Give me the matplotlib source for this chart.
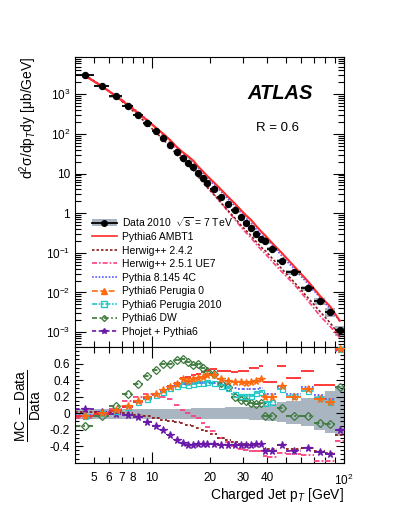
import numpy as np
import matplotlib
matplotlib.use('Agg')
import matplotlib.pyplot as plt
from matplotlib.ticker import FixedLocator, FuncFormatter, MultipleLocator, LogLocator, NullFormatter
from matplotlib.lines import Line2D
from matplotlib.patches import Patch

plt.rcParams['font.family'] = ['Liberation Sans', 'DejaVu Sans']
plt.rcParams['mathtext.fontset'] = 'custom'
plt.rcParams['mathtext.rm'] = 'Liberation Sans'
plt.rcParams['mathtext.it'] = 'Liberation Sans:italic'
plt.rcParams['mathtext.bf'] = 'Liberation Sans:bold'
plt.rcParams['axes.unicode_minus'] = False

# charged jet pT bins [GeV]
pt_edges = [4, 5, 6, 7, 8, 9, 10, 11, 12, 13, 14, 15, 16, 17, 18, 19, 20,
            22, 24, 26, 28, 30, 32, 34, 36, 38, 40, 45, 50, 60, 70, 80, 90, 100]

# measured cross section [ub/GeV]
data_xs = [3070, 1620, 889, 506, 300, 185, 118, 78.7, 52.5, 34.3, 24.5, 18.8,
           14.4, 10.1, 7.57, 5.66, 3.99, 2.59, 1.70, 1.18, 0.811, 0.579, 0.433,
           0.305, 0.224, 0.197, 0.125, 0.0635, 0.0322, 0.0126, 0.0061, 0.00324,
           0.0011]
data_stat = [0.01] * 26 + [0.015, 0.02, 0.025, 0.04, 0.06, 0.09, 0.25]

# total uncertainty band (relative)
band_up = [0.055, 0.053, 0.052, 0.052, 0.052, 0.052, 0.052, 0.052, 0.053, 0.053,
           0.054, 0.055, 0.056, 0.057, 0.058, 0.060, 0.062, 0.065, 0.068, 0.071,
           0.074, 0.078, 0.082, 0.086, 0.090, 0.095, 0.11, 0.13, 0.15, 0.18,
           0.21, 0.27, 0.33]
band_dn = [-0.072, -0.07, -0.07, -0.07, -0.07, -0.07, -0.07, -0.07, -0.07, -0.07,
           -0.072, -0.072, -0.073, -0.073, -0.074, -0.074, -0.075, -0.075, -0.076,
           -0.076, -0.077, -0.077, -0.078, -0.078, -0.079, -0.08, -0.09, -0.11,
           -0.13, -0.15, -0.20, -0.24, -0.28]

# (MC - Data) / Data
ambt1 = [-0.04, -0.01, 0.03, 0.07, 0.13, 0.18, 0.23, 0.28, 0.33, 0.37, 0.42,
         0.44, 0.46, 0.47, 0.50, 0.52, 0.53, 0.51, 0.51, 0.50, 0.51, 0.51, 0.54,
         0.55, 0.565, 0.38, 0.38, 0.565, 0.42, 0.51, 0.34, 0.34, 0.76]
herwig242 = [0.01, 0.01, 0.01, 0.0, -0.02, -0.04, -0.06, -0.08, -0.10, -0.11,
             -0.12, -0.14, -0.16, -0.18, -0.21, -0.22, -0.25, -0.30, -0.32, -0.35,
             -0.37, -0.37, -0.38, -0.38, -0.37, -0.43, -0.43, -0.38, -0.43, -0.42,
             -0.46, -0.48, -0.27]
herwig251 = [-0.06, 0.0, 0.05, 0.15, 0.20, 0.23, 0.22, 0.20, 0.17, 0.10, 0.04,
             0.0, -0.03, -0.06, -0.12, -0.17, -0.22, -0.30, -0.35, -0.40, -0.43,
             -0.45, -0.46, -0.46, -0.46, -0.52, -0.53, -0.48, -0.50, -0.51, -0.58,
             -0.58, -0.34]
pythia8 = [-0.02, 0.01, 0.04, 0.08, 0.13, 0.18, 0.22, 0.27, 0.30, 0.33, 0.35,
           0.35, 0.36, 0.37, 0.37, 0.37, 0.36, 0.35, 0.34, 0.30, 0.29, 0.29, 0.29,
           0.29, 0.30, 0.23, 0.23, 0.32, 0.23, 0.31, 0.22, 0.17, 0.75]
perugia0 = [-0.04, 0.0, 0.04, 0.09, 0.15, 0.19, 0.23, 0.28, 0.32, 0.35, 0.41,
            0.39, 0.41, 0.43, 0.44, 0.46, 0.46, 0.41, 0.39, 0.38, 0.38, 0.37, 0.38,
            0.39, 0.41, 0.20, 0.20, 0.33, 0.20, 0.29, 0.17, 0.14, 0.77]
perugia2010 = [-0.04, 0.0, 0.02, 0.07, 0.13, 0.17, 0.22, 0.26, 0.30, 0.33, 0.35,
               0.34, 0.35, 0.36, 0.36, 0.38, 0.36, 0.33, 0.30, 0.23, 0.21, 0.21,
               0.21, 0.245, 0.26, 0.12, 0.13, 0.29, 0.21, 0.27, 0.18, 0.13, 0.77]
dw = [-0.16, -0.04, 0.09, 0.23, 0.35, 0.45, 0.525, 0.59, 0.60, 0.64, 0.66, 0.62,
      0.58, 0.59, 0.55, 0.51, 0.47, 0.36, 0.31, 0.20, 0.16, 0.15, 0.125, 0.11,
      0.12, -0.04, -0.04, 0.06, -0.04, -0.03, -0.115, -0.13, 0.32]
phojet = [0.05, 0.01, -0.01, -0.02, -0.05, -0.11, -0.15, -0.21, -0.26, -0.32,
          -0.36, -0.39, -0.38, -0.375, -0.375, -0.375, -0.37, -0.39, -0.38, -0.38,
          -0.38, -0.38, -0.38, -0.375, -0.37, -0.46, -0.46, -0.39, -0.46, -0.42,
          -0.475, -0.49, -0.20]

grey = '#a9b6c1'
# label, values, colour, linestyle, marker, filled, drawn in top panel
models = {
    'Pythia6 AMBT1': (ambt1, '#ff2a2a', '-', None, False, True),
    'Herwig++ 2.4.2': (herwig242, '#8b1c1c', (0, (1.5, 1.2)), None, False, True),
    'Herwig++ 2.5.1 UE7': (herwig251, '#ff3f7f', (0, (3, 1.2, 1, 1.2)), None, False, True),
    'Pythia 8.145 4C': (pythia8, '#5a5aff', (0, (1, 1)), None, False, True),
    'Pythia6 Perugia 0': (perugia0, '#ff6a10', (0, (3.5, 1.5)), '*', True, False),
    'Pythia6 Perugia 2010': (perugia2010, '#22c8c8', (0, (3, 1, 1, 1, 1, 1)), 's', False, False),
    'Pythia6 DW': (dw, '#3d7a3d', (0, (3, 1.5, 1, 1.5)), 'D', False, False),
    'Phojet + Pythia6': (phojet, '#6a1aa8', (0, (2.5, 1.5)), '*', True, False),
}
draw_order = ['Pythia6 DW', 'Phojet + Pythia6', 'Pythia6 Perugia 2010',
              'Pythia6 Perugia 0', 'Pythia 8.145 4C', 'Herwig++ 2.5.1 UE7',
              'Herwig++ 2.4.2', 'Pythia6 AMBT1']

lo = np.array(pt_edges[:-1], dtype=float)
hi = np.array(pt_edges[1:], dtype=float)
ctr = 0.5 * (lo + hi)
xs = np.array(data_xs)
up = np.array(band_up)
dn = np.array(band_dn)

fig = plt.figure(figsize=(3.99, 5.16), dpi=100)
ax = fig.add_axes([0.18797, 0.32752, 0.6742, 0.56298])
rx = fig.add_axes([0.18797, 0.10329, 0.6742, 0.22423], sharex=ax)

# ---- top panel
ax.bar(lo, xs * (up - dn), bottom=xs * (1 + dn), width=hi - lo, align='edge',
       color=grey, linewidth=0, zorder=1)
for name in draw_order:
    vals, col, ls, mk, filled, top = models[name]
    if not top:
        continue
    lw = 1.5 if name == 'Pythia6 AMBT1' else 1.2
    ax.plot(ctr, xs * (1 + np.array(vals)), color=col, ls=ls, lw=lw, zorder=2)
ax.errorbar(ctr, xs, xerr=[ctr - lo, hi - ctr], yerr=xs * np.array(data_stat),
            fmt='o', color='black', ms=4.3, elinewidth=1.3, capsize=0, zorder=3)

ax.set_xscale('log')
ax.set_yscale('log')
ax.set_xlim(4, 100)
ax.set_ylim(4.2e-4, 9e3)

ylab = {1e-3: '$10^{-3}$', 1e-2: '$10^{-2}$', 1e-1: '$10^{-1}$', 1: '1', 10: '10',
        1e2: '$10^{2}$', 1e3: '$10^{3}$'}
ax.yaxis.set_major_locator(FixedLocator(list(ylab.keys())))
ax.yaxis.set_major_formatter(FuncFormatter(lambda v, p: ylab.get(round(v, 6), '')))
ax.yaxis.set_minor_locator(LogLocator(base=10, subs=np.arange(2, 10), numticks=20))
ax.yaxis.set_minor_formatter(NullFormatter())

ax.set_ylabel('d$^{2}$σ/dp$_{T}$dy [μb/GeV]', fontsize=10, loc='top')
ax.yaxis.set_label_coords(-0.135, 1.0)

ax.text(0.762, 0.871, 'ATLAS', transform=ax.transAxes, fontsize=14.5,
        weight='bold', style='italic', ha='center', va='center')
ax.text(0.753, 0.755, 'R = 0.6', transform=ax.transAxes, fontsize=9.5,
        ha='center', va='center')

legend_order = ['Pythia6 AMBT1', 'Herwig++ 2.4.2', 'Herwig++ 2.5.1 UE7',
                'Pythia 8.145 4C', 'Pythia6 Perugia 0', 'Pythia6 Perugia 2010',
                'Pythia6 DW', 'Phojet + Pythia6']
legend_marker = {'Pythia6 Perugia 0': '^', 'Pythia6 Perugia 2010': 's',
                 'Pythia6 DW': 'D', 'Phojet + Pythia6': '*'}
handles = [(Patch(facecolor=grey, edgecolor='none'),
            Line2D([], [], color='black', marker='o', ms=4, lw=1.3))]
labels = ['Data 2010  $\\sqrt{\\mathrm{s}}$ = 7 TeV']
for name in legend_order:
    vals, col, ls, mk, filled, top = models[name]
    m = legend_marker.get(name)
    h = Line2D([], [], color=col, ls=ls, lw=1.2, marker=m,
               ms=3 if m == 'D' else 4, mfc=col if filled else 'none', mec=col)
    handles.append(h)
    labels.append(name)
ax.legend(handles, labels, loc='upper left', bbox_to_anchor=(0.062, 0.455),
          frameon=False, fontsize=7.5, handlelength=2.4, handletextpad=0.5,
          labelspacing=0.34, borderpad=0, borderaxespad=0)

# ---- ratio panel
rx.bar(lo, up - dn, bottom=dn, width=hi - lo, align='edge', color=grey,
       linewidth=0, zorder=1)
for name in draw_order:
    vals, col, ls, mk, filled, top = models[name]
    v = np.array(vals)
    rx.hlines(v, lo, hi, colors=col, linestyles=ls, lw=1.3, zorder=2)
    if mk:
        rx.plot(ctr, v, ls='none', marker=mk, ms=5.5 if mk == '*' else 3.6,
                mfc=col if filled else 'none', mec=col, mew=0.9, zorder=3,
                clip_on=False)
rx.set_ylim(-0.6, 0.8)
rx.yaxis.set_major_locator(FixedLocator([-0.4, -0.2, 0.0, 0.2, 0.4, 0.6]))
rx.yaxis.set_minor_locator(MultipleLocator(0.05))
rx.yaxis.set_major_formatter(FuncFormatter(
    lambda v, p: '0' if abs(v) < 1e-9 else ('%.1f' % v)))

xmaj = {10: '10', 100: '$10^{2}$'}
xmin_lab = {5: '5', 6: '6', 7: '7', 8: '8', 20: '20', 30: '30', 40: '40'}
rx.xaxis.set_major_locator(FixedLocator([10, 100]))
rx.xaxis.set_minor_locator(FixedLocator([5, 6, 7, 8, 9, 20, 30, 40, 50, 60, 70, 80, 90]))
rx.xaxis.set_major_formatter(FuncFormatter(lambda v, p: xmaj.get(int(round(v)), '')))
rx.xaxis.set_minor_formatter(FuncFormatter(lambda v, p: xmin_lab.get(int(round(v)), '')))

rx.set_xlabel('Charged Jet p$_{T}$ [GeV]', fontsize=10, loc='right')
rx.xaxis.set_label_coords(1.0, -0.2)
fig.text(0.072, 1 - 406 / 516, r'$\frac{\mathrm{MC\ -\ Data}}{\mathrm{Data}}$',
         rotation=90, ha='center', va='center', fontsize=14)

for a in (ax, rx):
    a.tick_params(which='both', direction='in', top=True, right=True, width=0.8,
                  labelsize=8.5)
    a.tick_params(which='major', length=8)
    a.tick_params(which='minor', length=4)
    for s in a.spines.values():
        s.set_linewidth(0.8)
ax.tick_params(which='both', labelbottom=False)
rx.tick_params(axis='x', which='both', pad=7)
rx.tick_params(axis='y', which='major', length=6)
rx.tick_params(axis='y', which='minor', length=3)

fig.savefig('out.png', dpi=100)
